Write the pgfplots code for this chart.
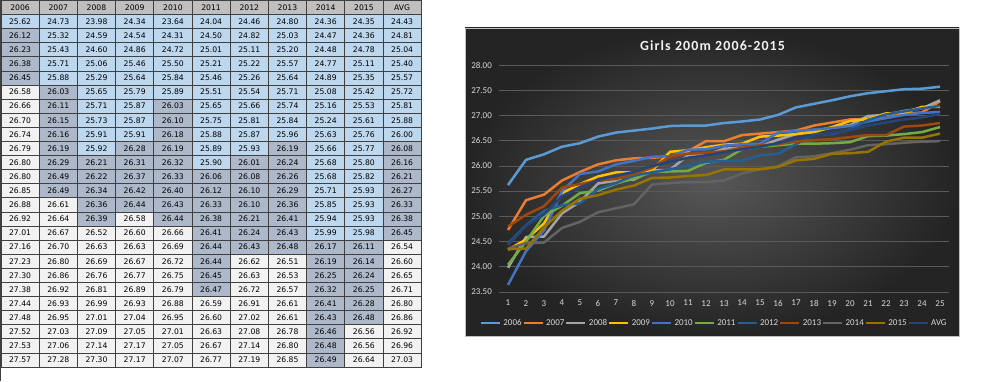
\documentclass[border=0pt]{standalone}
\usepackage{pgfplots}
\usepackage{pgfplotstable}
\pgfplotsset{compat=1.18}
\usepackage{fontspec}
\setmainfont{Carlito}
\newfontfamily\tabfont{DejaVu Sans}
\newfontfamily\titlefont[LetterSpace=8]{Carlito}
\definecolor{cb}{RGB}{189,215,238}
\definecolor{cg}{RGB}{173,185,202}
\definecolor{cw}{RGB}{242,242,242}
\definecolor{hdr}{RGB}{191,191,191}
\definecolor{tabline}{RGB}{64,64,64}
\definecolor{gridc}{RGB}{90,90,90}
\definecolor{lab}{RGB}{217,217,217}
\definecolor{s1}{HTML}{5B9BD5}
\definecolor{s2}{HTML}{ED7D31}
\definecolor{s3}{HTML}{A5A5A5}
\definecolor{s4}{HTML}{FFC000}
\definecolor{s5}{HTML}{4472C4}
\definecolor{s6}{HTML}{70AD47}
\definecolor{s7}{HTML}{255E91}
\definecolor{s8}{HTML}{9E480E}
\definecolor{s9}{HTML}{636363}
\definecolor{s10}{HTML}{997300}
\definecolor{s11}{HTML}{264478}
\pgfplotstableread{
x c2006 c2007 c2008 c2009 c2010 c2011 c2012 c2013 c2014 c2015 cAVG
1 25.62 24.73 23.98 24.34 23.64 24.04 24.46 24.80 24.36 24.35 24.43
2 26.12 25.32 24.59 24.54 24.31 24.50 24.82 25.03 24.47 24.36 24.81
3 26.23 25.43 24.60 24.86 24.72 25.01 25.11 25.20 24.48 24.78 25.04
4 26.38 25.71 25.06 25.46 25.50 25.21 25.22 25.57 24.77 25.11 25.40
5 26.45 25.88 25.29 25.64 25.84 25.46 25.26 25.64 24.89 25.35 25.57
6 26.58 26.03 25.65 25.79 25.89 25.51 25.54 25.71 25.08 25.42 25.72
7 26.66 26.11 25.71 25.87 26.03 25.65 25.66 25.74 25.16 25.53 25.81
8 26.70 26.15 25.73 25.87 26.10 25.75 25.81 25.84 25.24 25.61 25.88
9 26.74 26.16 25.91 25.91 26.18 25.88 25.87 25.96 25.63 25.76 26.00
10 26.79 26.19 25.92 26.28 26.19 25.89 25.93 26.19 25.66 25.77 26.08
11 26.80 26.29 26.21 26.31 26.32 25.90 26.01 26.24 25.68 25.80 26.16
12 26.80 26.49 26.22 26.37 26.33 26.06 26.08 26.26 25.68 25.82 26.21
13 26.85 26.49 26.34 26.42 26.40 26.12 26.10 26.29 25.71 25.93 26.27
14 26.88 26.61 26.36 26.44 26.43 26.33 26.10 26.36 25.85 25.93 26.33
15 26.92 26.64 26.39 26.58 26.44 26.38 26.21 26.41 25.94 25.93 26.38
16 27.01 26.67 26.52 26.60 26.66 26.41 26.24 26.43 25.99 25.98 26.45
17 27.16 26.70 26.63 26.63 26.69 26.44 26.43 26.48 26.17 26.11 26.54
18 27.23 26.80 26.69 26.67 26.72 26.44 26.62 26.51 26.19 26.14 26.60
19 27.30 26.86 26.76 26.77 26.75 26.45 26.63 26.53 26.25 26.24 26.65
20 27.38 26.92 26.81 26.89 26.79 26.47 26.72 26.57 26.32 26.25 26.71
21 27.44 26.93 26.99 26.93 26.88 26.59 26.91 26.61 26.41 26.28 26.80
22 27.48 26.95 27.01 27.04 26.95 26.60 27.02 26.61 26.43 26.48 26.86
23 27.52 27.03 27.09 27.05 27.01 26.63 27.08 26.78 26.46 26.56 26.92
24 27.53 27.06 27.14 27.17 27.05 26.67 27.14 26.80 26.48 26.56 26.96
25 27.57 27.28 27.30 27.17 27.07 26.77 27.19 26.85 26.49 26.64 27.03
}\data
\begin{document}
\begin{tikzpicture}[x=1bp,y=1bp]
\useasboundingbox[fill=white] (0,0) rectangle (1000,381);
% ---- table ----
\draw[tabline, line width=0.8bp] (0.6,381) -- (0.6,0);
\foreach \h [count=\ci from 0] in {2006,2007,2008,2009,2010,2011,2012,2013,2014,2015,AVG}{
  \pgfmathsetmacro\xa{1+\ci*38.2}
  \pgfmathsetmacro\xb{\xa+38.2}
  \filldraw[fill=hdr, draw=tabline, line width=0.8bp] (\xa,381) rectangle (\xb,366.5);
  \node[font=\tabfont\fontsize{7.7}{8}\selectfont, text depth=0pt, inner sep=0pt] at ({(\xa+\xb)/2},373.5) {\h};
}
\foreach \col [count=\ci from 0] in {c2006,c2007,c2008,c2009,c2010,c2011,c2012,c2013,c2014,c2015,cAVG}{
  \foreach \r in {0,...,24}{
    \pgfplotstablegetelem{\r}{\col}\of\data
    \let\v\pgfplotsretval
    \pgfmathsetmacro\xa{1+\ci*38.2}
    \pgfmathsetmacro\xb{\xa+38.2}
    \pgfmathsetmacro\ya{366.5-\r*14.1}
    \pgfmathsetmacro\yb{\ya-14.1}
    \ifdim\v pt>26.495pt \def\cc{cw}\else\ifdim\v pt>26.005pt \def\cc{cg}\else\def\cc{cb}\fi\fi
    \filldraw[fill=\cc, draw=tabline, line width=0.8bp] (\xa,\ya) rectangle (\xb,\yb);
    \node[font=\tabfont\fontsize{7.7}{8}\selectfont, text depth=0pt, inner sep=0pt] at ({(\xa+\xb)/2},{(\ya+\yb)/2}) {\v};
  }
}
% ---- chart background ----
\shade[inner color=black!66, outer color=black!86] (465,45) rectangle (959,353);
\draw[black!25, line width=0.7bp] (465,45) rectangle (959,353);
\node[font=\titlefont\bfseries\fontsize{14}{16}\selectfont, text=cw, inner sep=0pt] at (712.5,335.5) {Girls 200m 2006-2015};
\begin{axis}[
  at={(499bp,89bp)}, anchor=south west,
  width=450bp, height=227bp, scale only axis,
  xmin=0.5, xmax=25.5, ymin=23.5, ymax=28,
  xtick={1,...,25}, ytick={23.5,24,24.5,25,25.5,26,26.5,27,27.5,28},
  /pgf/number format/assume math mode=true,
  yticklabel style={/pgf/number format/fixed, /pgf/number format/fixed zerofill, /pgf/number format/precision=2},
  axis line style={draw=none}, tick style={draw=none}, major tick length=0pt,
  ymajorgrids, grid style={color=gridc, line width=0.75bp},
  ticklabel style={font=\fontsize{9}{10}\selectfont, color=lab},
  yticklabel style={inner sep=0pt, xshift=-7bp},
  xticklabel style={inner sep=0pt, yshift=-8bp},
  every axis plot/.append style={line width=2.5bp, no markers, line join=round},
  legend columns=11,
  legend style={at={(0.4767,-0.1366)}, anchor=center, draw=none, fill=none,
    font=\fontsize{9}{10}\selectfont, text=lab, nodes={inner sep=0.8bp},
    /tikz/every odd column/.append style={column sep=1.5bp}},
  legend image code/.code={\draw[#1] (0bp,0bp) -- (19bp,0bp);},
]
\addplot[s1] table[x=x,y=c2006]{\data}; \addlegendentry{2006}
\addplot[s2] table[x=x,y=c2007]{\data}; \addlegendentry{2007}
\addplot[s3] table[x=x,y=c2008]{\data}; \addlegendentry{2008}
\addplot[s4] table[x=x,y=c2009]{\data}; \addlegendentry{2009}
\addplot[s5] table[x=x,y=c2010]{\data}; \addlegendentry{2010}
\addplot[s6] table[x=x,y=c2011]{\data}; \addlegendentry{2011}
\addplot[s7] table[x=x,y=c2012]{\data}; \addlegendentry{2012}
\addplot[s8] table[x=x,y=c2013]{\data}; \addlegendentry{2013}
\addplot[s9] table[x=x,y=c2014]{\data}; \addlegendentry{2014}
\addplot[s10] table[x=x,y=c2015]{\data}; \addlegendentry{2015}
\addplot[s11] table[x=x,y=cAVG]{\data}; \addlegendentry{AVG}
\end{axis}
\end{tikzpicture}
\end{document}
